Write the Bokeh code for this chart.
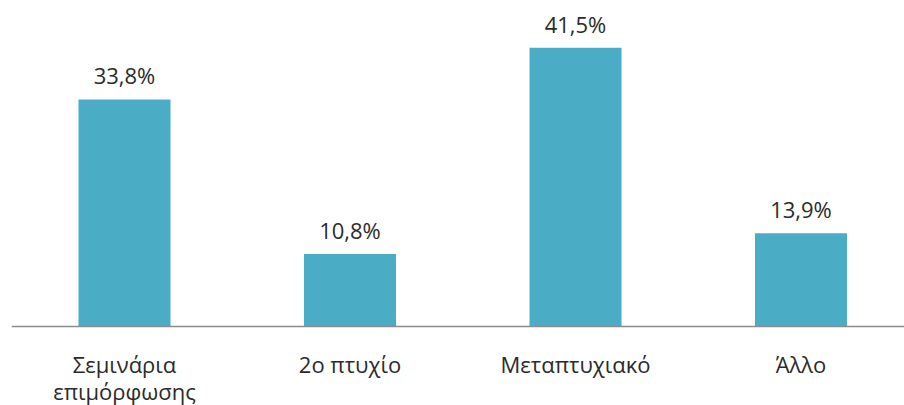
from bokeh.plotting import figure
from bokeh.models import ColumnDataSource, Range1d
from bokeh.core.properties import value
from bokeh.embed import file_html
from bokeh.resources import INLINE

categories = ["Σεμινάρια\nεπιμόρφωσης", "2ο πτυχίο", "Μεταπτυχιακό", "Άλλο"]
values = [33.8, 10.8, 41.5, 13.9]
value_labels = ["33,8%", "10,8%", "41,5%", "13,9%"]

W, H = 904, 405
px_per_cat = 225.5
left_px = 124.0
base_px = 326.0
px_per_unit = 6.716

x_start = -left_px / px_per_cat
x_end = x_start + W / px_per_cat
y_start = -(H - base_px) / px_per_unit
y_end = base_px / px_per_unit

xs = list(range(len(categories)))
src = ColumnDataSource(dict(x=xs, top=values, lab=value_labels))

p = figure(width=W, height=H, output_backend="svg", toolbar_location=None,
           x_range=Range1d(x_start, x_end), y_range=Range1d(y_start, y_end),
           min_border=0)
p.axis.visible = False
p.grid.visible = False
p.outline_line_color = None
p.background_fill_color = "white"
p.border_fill_color = "white"

p.vbar(x="x", top="top", bottom=0, width=0.408, source=src,
       fill_color="#4BACC6", line_color=None)

# baseline axis line
p.segment(x0=[-0.5], y0=[0], x1=[len(categories) - 0.5 + 0.5], y1=[0],
          line_color="#8C8C8C", line_width=1.5)

FONT = value("Open Sans")
TCOL = "#2b2b2b"
FS = "22px"
p.text(x="x", y="top", text="lab", source=src, text_align="center",
       text_baseline="alphabetic", y_offset=-24, text_font=FONT,
       text_font_size=FS, text_color=TCOL)

# category labels, line by line
line1_x, line1_t, line2_x, line2_t = [], [], [], []
for i, c in enumerate(categories):
    parts = c.split("\n")
    line1_x.append(i); line1_t.append(parts[0])
    if len(parts) > 1:
        line2_x.append(i); line2_t.append(parts[1])
p.text(x=line1_x, y=[0] * len(line1_x), text=line1_t, text_align="center",
       text_baseline="alphabetic", y_offset=37, text_font=FONT,
       text_font_size=FS, text_color=TCOL)
p.text(x=line2_x, y=[0] * len(line2_x), text=line2_t, text_align="center",
       text_baseline="alphabetic", y_offset=64, text_font=FONT,
       text_font_size=FS, text_color=TCOL)

open("out.html", "w").write(file_html(p, INLINE))
